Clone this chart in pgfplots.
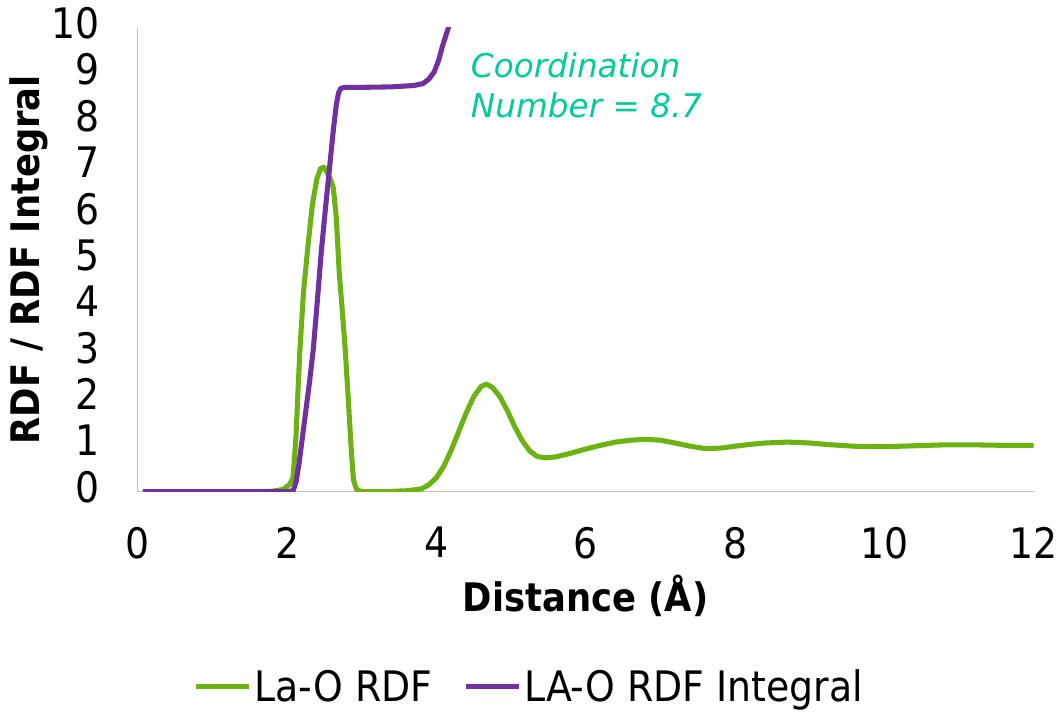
\documentclass[border=0pt]{standalone}
\usepackage{pgfplots}
\pgfplotsset{compat=1.18}
\usepackage{fontspec}
\setmainfont{DejaVuSansCondensed}[Extension=.ttf, BoldFont=*-Bold, ItalicFont=*-Oblique, BoldItalicFont=*-BoldOblique]
\newfontfamily\annotfont{DejaVuSans}[Extension=.ttf, ItalicFont=*-Oblique]
\definecolor{rdfgreen}{RGB}{107,178,18}
\definecolor{rdfpurple}{RGB}{112,48,160}
\definecolor{annot}{RGB}{0,204,153}
\definecolor{axgray}{RGB}{191,191,191}
\begin{document}
\begin{tikzpicture}
\begin{axis}[
  scale only axis, width=672pt, height=347.8pt,
  xmin=0, xmax=12, ymin=0, ymax=10,
  xtick={0,2,...,12}, ytick={0,1,...,10},
  axis x line*=bottom, axis y line*=left,
  axis line style={draw=axgray, line width=1pt, -},
  major tick length=0pt,
  tick label style={font=\fontsize{31.5}{36}\selectfont, inner sep=0pt},
  yticklabel style={yshift=3.5pt},
  /pgf/number format/assume math mode=true,
  xticklabel shift=26.5pt, yticklabel shift=28.3pt,
  xlabel={Distance (Å)}, ylabel={RDF / RDF Integral},
  label style={font=\bfseries\fontsize{29.5}{34}\selectfont},
  xlabel style={at={(axis description cs:0.5,-0.2573)}, anchor=base},
  ylabel style={at={(axis description cs:-0.1213,0.5)}, anchor=center},
  legend columns=2,
  legend style={draw=none, fill=none, at={(axis description cs:0.4373,-0.4210)}, anchor=center,
    font=\fontsize{31.5}{36}\selectfont,
    /tikz/every even column/.append style={column sep=21.2pt},
    nodes={inner xsep=1.9pt, inner ysep=0pt}},
  legend image code/.code={\draw[#1] (0pt,0pt) -- (40pt,0pt);},
]
\addplot[rdfgreen, line width=3.8pt, line join=round] coordinates {
(0.07,0) (0.5,0) (1.0,0) (1.5,0) (1.8,0.01) (1.95,0.05) (2.03,0.15) (2.08,0.3)
(2.12,1.2) (2.17,3.0) (2.22,4.3) (2.28,5.3) (2.34,6.2) (2.40,6.75) (2.45,6.97)
(2.49,7.0) (2.53,6.9) (2.58,6.75) (2.62,6.55) (2.66,5.9) (2.70,4.7) (2.74,3.9)
(2.78,3.05) (2.82,2.0) (2.86,0.9) (2.89,0.25) (2.93,0.05) (3.0,0.0) (3.3,0.0)
(3.6,0.02) (3.8,0.06) (3.9,0.15) (4.0,0.3) (4.1,0.55) (4.2,0.9) (4.3,1.3)
(4.4,1.7) (4.5,2.05) (4.6,2.27) (4.67,2.32) (4.75,2.25) (4.85,2.05) (4.95,1.75)
(5.05,1.4) (5.15,1.1) (5.25,0.88) (5.35,0.76) (5.45,0.73) (5.6,0.75) (5.8,0.83)
(6.0,0.92) (6.2,1.0) (6.4,1.07) (6.6,1.11) (6.8,1.13) (7.0,1.11) (7.2,1.05)
(7.4,0.98) (7.6,0.93) (7.8,0.94) (8.0,0.98) (8.2,1.02) (8.4,1.05) (8.7,1.07)
(9.0,1.05) (9.3,1.01) (9.6,0.98) (10.0,0.97) (10.4,0.99) (10.8,1.01) (11.2,1.01)
(11.6,1.0) (12.0,1.0)
};
\addlegendentry{La-O RDF}
\addplot[rdfpurple, line width=3.8pt, line join=round] coordinates {
(0.07,0) (1.0,0) (2.0,0) (2.08,0.02) (2.12,0.2) (2.16,0.6) (2.2,1.1) (2.24,1.6)
(2.3,2.35) (2.35,3.05) (2.40,4.0) (2.46,5.2) (2.52,6.2) (2.57,7.0) (2.62,7.8)
(2.66,8.35) (2.69,8.6) (2.72,8.7) (2.78,8.72) (3.0,8.72) (3.4,8.73) (3.7,8.76)
(3.82,8.8) (3.9,8.9) (3.97,9.05) (4.03,9.3) (4.08,9.6) (4.13,9.85) (4.17,10.05)
(4.22,10.4)
};
\addlegendentry{LA-O RDF Integral}
\node[anchor=base west, font=\annotfont\itshape\fontsize{24.5}{30}\selectfont, text=annot, inner sep=0pt] at (axis cs:4.46,8.94) {Coordination};
\node[anchor=base west, font=\annotfont\itshape\fontsize{24.5}{30}\selectfont, text=annot, inner sep=0pt] at (axis cs:4.46,8.08) {Number = 8.7};
\end{axis}
\pgfresetboundingbox
\path[use as bounding box] (-103.3pt,-165.2pt) rectangle (694pt,368.8pt);
\end{tikzpicture}
\end{document}
